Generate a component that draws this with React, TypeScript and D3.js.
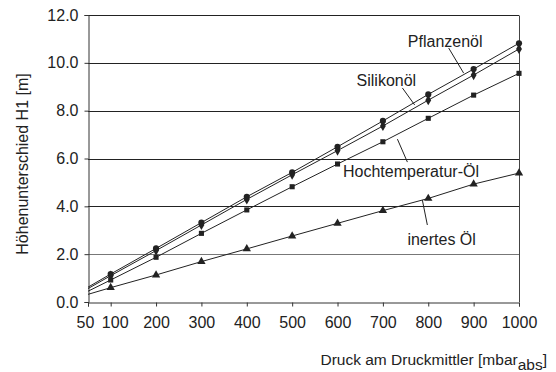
import React, { useRef, useEffect } from 'react';
import * as d3 from 'd3';

// Druck in mbar (abs); 50 is only the start of the lines, no marker there
const pressures = [50, 100, 200, 300, 400, 500, 600, 700, 800, 900, 1000];
const pflanzenoel = [0.62, 1.17, 2.24, 3.32, 4.4, 5.42, 6.49, 7.57, 8.68, 9.74, 10.82];
const silikonoel = [0.56, 1.1, 2.15, 3.22, 4.29, 5.32, 6.33, 7.36, 8.44, 9.49, 10.58];
const hochtempOel = [0.45, 0.92, 1.87, 2.87, 3.85, 4.82, 5.77, 6.7, 7.68, 8.65, 9.56];
const inertesOel = [0.32, 0.6, 1.13, 1.69, 2.22, 2.76, 3.29, 3.82, 4.33, 4.93, 5.39];
const xTicks = [50, 100, 200, 300, 400, 500, 600, 700, 800, 900, 1000];
const yTicks = [0, 2, 4, 6, 8, 10, 12];

const seriesList = [
    { name: 'Pflanzenöl', values: pflanzenoel, symbol: d3.symbolCircle, size: 30 },
    { name: 'Silikonöl', values: silikonoel, symbol: d3.symbolDiamond, size: 30 },
    { name: 'Hochtemperatur-Öl', values: hochtempOel, symbol: d3.symbolSquare, size: 26 },
    { name: 'inertes Öl', values: inertesOel, symbol: d3.symbolTriangle, size: 30 },
];

// label text position (x, y in data units) and leader line from label to curve
const labels = [
    { text: 'Pflanzenöl', x: 755, y: 10.9, from: [845, 10.62], to: [878, 9.57] },
    { text: 'Silikonöl', x: 642, y: 9.28, from: [743, 8.95], to: [770, 8.24] },
    { text: 'Hochtemperatur-Öl', x: 612, y: 5.45, from: [732, 6.81], to: [754, 5.85] },
    { text: 'inertes Öl', x: 754, y: 2.63, from: [787, 4.26], to: [798, 3.22] },
];

const W = 556;
const H = 372;
const margin = { top: 15, right: 37, bottom: 70, left: 88 };
const font = '"Liberation Sans", Arial, sans-serif';

const App = () => {
    const ref = useRef<SVGSVGElement>(null);

    useEffect(() => {
        const svg = d3.select(ref.current);
        svg.selectAll('*').remove();

        const width = W - margin.left - margin.right;
        const height = H - margin.top - margin.bottom;

        const x = d3.scaleLinear().domain([50, 1000]).range([0, width]);
        const y = d3.scaleLinear().domain([0, 12]).range([height, 0]);

        const g = svg.append('g').attr('transform', `translate(${margin.left},${margin.top})`);

        // horizontal grid lines
        g.selectAll('.grid')
            .data(yTicks.filter(v => v > 0))
            .enter().append('line')
            .attr('x1', 0)
            .attr('x2', width)
            .attr('y1', d => Math.round(y(d)) + 0.5)
            .attr('y2', d => Math.round(y(d)) + 0.5)
            .attr('stroke', d => (d === 2 ? '#777' : '#222'))
            .attr('stroke-width', 1);

        // right border
        g.append('line')
            .attr('x1', width + 0.5).attr('x2', width + 0.5)
            .attr('y1', Math.round(y(12)) + 0.5).attr('y2', height)
            .attr('stroke', '#444');

        // axes
        const xAxis = g.append('g')
            .attr('transform', `translate(0,${Math.round(height) + 0.5})`)
            .call(d3.axisBottom(x).tickValues(xTicks).tickSize(4).tickPadding(10).tickFormat(d3.format('d')));
        const yAxis = g.append('g')
            .attr('transform', 'translate(0.5,0)')
            .call(d3.axisLeft(y).tickValues(yTicks).tickSize(4).tickPadding(6).tickFormat(d3.format('.1f')));

        [xAxis, yAxis].forEach(a => {
            a.select('.domain').attr('stroke', '#333');
            a.selectAll('.tick line').attr('stroke', '#333');
            a.selectAll('text')
                .attr('fill', '#222')
                .style('font-family', font)
                .style('font-size', '16px');
        });
        // first two x labels are pushed apart a bit, as in the original
        xAxis.selectAll<SVGTextElement, number>('text')
            .attr('dx', d => (d === 50 ? -3 : d === 100 ? 4 : 0));

        const line = d3.line<number>()
            .x((_, i) => x(pressures[i]))
            .y(d => y(d));

        seriesList.forEach(s => {
            g.append('path')
                .datum(s.values)
                .attr('d', line)
                .attr('fill', 'none')
                .attr('stroke', '#222')
                .attr('stroke-width', 1);

            g.selectAll(null)
                .data(s.values.slice(1))
                .enter().append('path')
                .attr('transform', (d, i) => `translate(${x(pressures[i + 1])},${y(d)})`)
                .attr('d', d3.symbol().type(s.symbol).size(s.size)())
                .attr('fill', '#222');
        });

        // series labels with leader lines
        labels.forEach(l => {
            g.append('line')
                .attr('x1', x(l.from[0])).attr('y1', y(l.from[1]))
                .attr('x2', x(l.to[0])).attr('y2', y(l.to[1]))
                .attr('stroke', '#222');
            g.append('text')
                .attr('x', x(l.x))
                .attr('y', y(l.y))
                .attr('dy', '0.35em')
                .style('font-family', font)
                .style('font-size', '16px')
                .attr('fill', '#222')
                .text(l.text);
        });

        // axis titles
        svg.append('text')
            .attr('transform', `translate(28,${164}) rotate(-90)`)
            .attr('text-anchor', 'middle')
            .style('font-family', font)
            .style('font-size', '16px')
            .attr('fill', '#222')
            .text('Höhenunterschied H1 [m]');

        const xt = svg.append('text')
            .attr('x', W - 9)
            .attr('y', 365)
            .attr('text-anchor', 'end')
            .style('font-family', font)
            .style('font-size', '15.5px')
            .attr('fill', '#222');
        xt.append('tspan').text('Druck am Druckmittler [mbar');
        xt.append('tspan').attr('dy', 5).text('abs');
        xt.append('tspan').attr('dy', -5).text(']');
    }, []);

    return (
        <svg ref={ref} width={W} height={H} style={{ position: 'absolute', left: 0, top: 0, background: '#fff' }} />
    );
};

export default App;
